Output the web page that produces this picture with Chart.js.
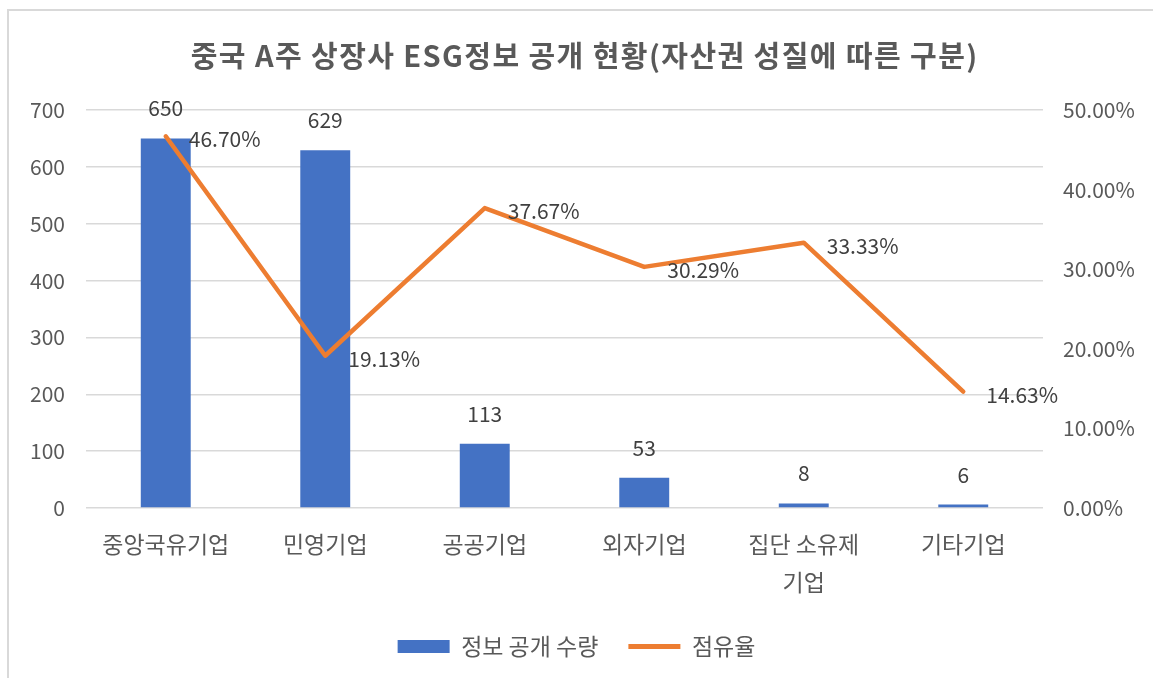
<!DOCTYPE html>
<html>
<head>
<meta charset="utf-8">
<script src="https://cdn.jsdelivr.net/npm/chart.js@4.4.0/dist/chart.umd.min.js"></script>
<style>
    html, body { margin: 0; padding: 0; background: #fff; overflow: hidden; }
    #wrap { position: relative; width: 1153px; height: 678px; }
    #frame { position: absolute; left: 7px; top: 9px; width: 1200px; height: 700px; border: 2px solid #d9d9d9; box-sizing: border-box; }
    #grafik { position: absolute; left: 0; top: 0; }
</style>
</head>
<body>
<div id="wrap">
    <div id="frame"></div>
    <canvas id="grafik" width="1153" height="678"></canvas>
</div>
<script>
// Data chart
var categories = ["중앙국유기업", "민영기업", "공공기업", "외자기업", ["집단 소유제", "기업"], "기타기업"];
var countValues = [650, 629, 113, 53, 8, 6];      // 정보 공개 수량
var shareValues = [46.70, 19.13, 37.67, 30.29, 33.33, 14.63]; // 점유율 (%)
var leftTicks = [0, 100, 200, 300, 400, 500, 600, 700];
var rightTicks = [0, 10, 20, 30, 40, 50];
var chartTitle = "중국 A주 상장사 ESG정보 공개 현황(자산권 성질에 따른 구분)";

var fontName = '"Noto Sans CJK KR", "Noto Sans", sans-serif';

// judul digambar sendiri supaya jarak huruf bisa diatur
var titlePlugin = {
    id: 'titlePlugin',
    afterDraw: function (chart) {
        var ctx = chart.ctx;
        ctx.save();
        ctx.font = 'bold 29px ' + fontName;
        ctx.fillStyle = '#595959';
        ctx.textAlign = 'center';
        ctx.textBaseline = 'middle';
        var w = ctx.measureText(chartTitle).width;
        var gap = Math.max(0, (788 - w) / chartTitle.length);
        ctx.letterSpacing = gap.toFixed(2) + 'px';
        ctx.fillText(chartTitle, 584 + gap / 2, 56);
        ctx.restore();
    }
};

// label angka di atas bar dan di kanan titik garis
var valueLabels = {
    id: 'valueLabels',
    afterDatasetsDraw: function (chart) {
        var ctx = chart.ctx;
        ctx.save();
        ctx.font = '21px ' + fontName;
        ctx.fillStyle = '#404040';
        ctx.textBaseline = 'middle';
        chart.getDatasetMeta(0).data.forEach(function (bar, i) {
            ctx.textAlign = 'center';
            ctx.fillText(String(countValues[i]), bar.x, bar.y - 30);
        });
        chart.getDatasetMeta(1).data.forEach(function (pt, i) {
            ctx.textAlign = 'left';
            ctx.fillText(shareValues[i].toFixed(2) + '%', pt.x + 23, pt.y + 3);
        });
        ctx.restore();
    }
};

var ctx = document.getElementById("grafik").getContext("2d");
var myChart = new Chart(ctx, {
    type: "bar",
    data: {
        labels: categories,
        datasets: [
            {
                label: "정보 공개 수량",
                data: countValues,
                backgroundColor: "#4472C4",
                categoryPercentage: 1,
                barPercentage: 0.313,
                yAxisID: "y",
                order: 2
            },
            {
                label: "점유율",
                type: "line",
                data: shareValues,
                borderColor: "#ED7D31",
                backgroundColor: "#ED7D31",
                borderWidth: 4.5,
                borderCapStyle: "round",
                borderJoinStyle: "round",
                pointRadius: 0,
                tension: 0,
                yAxisID: "y1",
                order: 1
            }
        ]
    },
    options: {
        responsive: false,
        animation: false,
        layout: { padding: { left: 10, right: 10, top: 110, bottom: 10 } },
        plugins: {
            title: { display: false },
            legend: {
                position: "bottom",
                labels: {
                    color: "#595959",
                    font: { family: fontName, size: 23 },
                    usePointStyle: true,
                    pointStyleWidth: 52,
                    boxHeight: 13,
                    padding: 30,
                    sort: function (a, b) { return a.datasetIndex - b.datasetIndex; },
                    generateLabels: function (chart) {
                        var items = Chart.defaults.plugins.legend.labels.generateLabels(chart);
                        items.forEach(function (item) {
                            if (item.datasetIndex === 0) {
                                item.pointStyle = "rect";
                                item.lineWidth = 0;
                            } else {
                                item.pointStyle = "line";
                                item.lineWidth = 5;
                                item.strokeStyle = "#ED7D31";
                            }
                        });
                        return items;
                    }
                }
            },
            tooltip: { enabled: false }
        },
        scales: {
            x: {
                grid: { display: false, drawTicks: false },
                border: { display: false },
                ticks: {
                    color: "#595959",
                    font: { family: fontName, size: 23, lineHeight: 1.65 },
                    padding: 17,
                    maxRotation: 0,
                    autoSkip: false
                },
                afterFit: function (scale) { scale.height = 97; }
            },
            y: {
                position: "left",
                min: 0,
                max: 700,
                afterBuildTicks: function (scale) {
                    scale.ticks = leftTicks.map(function (v) { return { value: v }; });
                },
                grid: { color: "#d9d9d9", lineWidth: 1.5, drawTicks: false },
                border: { display: false },
                ticks: {
                    color: "#595959",
                    font: { family: fontName, size: 21 },
                    padding: 21
                },
                afterFit: function (scale) { scale.width = 76; }
            },
            y1: {
                position: "right",
                min: 0,
                max: 50,
                afterBuildTicks: function (scale) {
                    scale.ticks = rightTicks.map(function (v) { return { value: v }; });
                },
                grid: { display: false, drawTicks: false },
                border: { display: false },
                ticks: {
                    color: "#595959",
                    font: { family: fontName, size: 21 },
                    padding: 20,
                    callback: function (v) { return Number(v).toFixed(2) + "%"; }
                },
                afterFit: function (scale) { scale.width = 100; }
            }
        }
    },
    plugins: [valueLabels, titlePlugin]
});
</script>
</body>
</html>
